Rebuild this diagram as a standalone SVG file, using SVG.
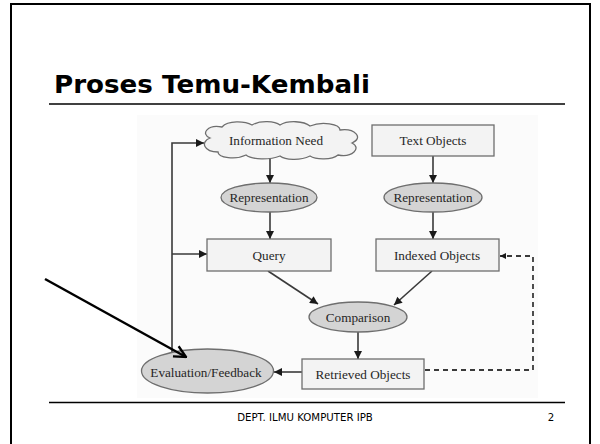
<svg xmlns="http://www.w3.org/2000/svg" width="600" height="444" viewBox="0 0 600 444">
<defs>
<style>
.node-box{fill:#f3f3f3;stroke:#6e6e6e;stroke-width:1.3}
.node-ell{fill:#d4d4d4;stroke:#6e6e6e;stroke-width:1.3}
.lbl{font-family:"Liberation Serif","Times New Roman",serif;font-size:13.2px;fill:#262626;text-anchor:middle;dominant-baseline:central}
.edge{fill:none;stroke:#3a3a3a;stroke-width:1.6}
.dash{fill:none;stroke:#3a3a3a;stroke-width:1.8;stroke-dasharray:5,4}
.foot{font-family:"DejaVu Sans",Verdana,sans-serif;font-size:10.2px;fill:#000}
</style>
<marker id="ah" viewBox="0 0 10 10" refX="10" refY="5" markerWidth="9" markerHeight="8" markerUnits="userSpaceOnUse" orient="auto">
<path d="M0,0 L10,5 L0,10 z" fill="#1a1a1a"/>
</marker>
<marker id="ahs" viewBox="0 0 10 10" refX="10" refY="5" markerWidth="6" markerHeight="6" markerUnits="userSpaceOnUse" orient="auto">
<path d="M0,0 L10,5 L0,10 z" fill="#1a1a1a"/>
</marker>
<marker id="open" viewBox="0 0 12 12" refX="11" refY="6" markerWidth="14" markerHeight="14" markerUnits="userSpaceOnUse" orient="auto">
<path d="M1,1 L11,6 L1,11" fill="none" stroke="#000" stroke-width="2"/>
</marker>
</defs>
<rect x="0" y="0" width="600" height="444" fill="#fff"/>
<rect x="11" y="4" width="579" height="460" fill="none" stroke="#000" stroke-width="2"/>
<text x="54" y="93" font-family="'DejaVu Sans',Verdana,sans-serif" font-weight="bold" font-size="25" textLength="316" lengthAdjust="spacingAndGlyphs" fill="#000">Proses Temu-Kembali</text>
<line x1="49" y1="104" x2="565" y2="104" stroke="#000" stroke-width="1.3"/>
<rect x="137" y="115" width="401" height="283" fill="#fbfbfb"/>
<g id="connectors">
<line class="edge" x1="270" y1="158" x2="270" y2="183" marker-end="url(#ah)"/>
<line class="edge" x1="270" y1="212" x2="270" y2="239" marker-end="url(#ah)"/>
<line class="edge" x1="433" y1="156" x2="433" y2="183" marker-end="url(#ah)"/>
<line class="edge" x1="433" y1="212" x2="433" y2="239" marker-end="url(#ah)"/>
<line class="edge" x1="268" y1="271" x2="318" y2="304" marker-end="url(#ah)"/>
<line class="edge" x1="432" y1="271" x2="394" y2="305" marker-end="url(#ah)"/>
<line class="edge" x1="358" y1="332" x2="358" y2="359" marker-end="url(#ah)"/>
<line class="edge" x1="302" y1="372" x2="274" y2="372" marker-end="url(#ah)"/>
<polyline class="edge" points="172,352 172,143 204,143" marker-end="url(#ah)"/>
<line class="edge" x1="172" y1="254" x2="207" y2="254" marker-end="url(#ah)"/>
<polyline class="dash" points="425,370 533,370 533,256 500,256" marker-end="url(#ahs)"/>
</g>
<g id="information-need">
<path class="node-box" d="M210,138 C200,134 208,124 222,127 C228,120 245,121 252,125 C260,120 275,121 280,125 C288,120 304,121 310,126 C322,121 340,124 340,130 C355,128 364,138 352,143 C362,148 352,158 338,155 C332,160 316,160 310,156 C300,161 285,160 280,156 C270,160 252,160 246,155 C236,160 218,158 218,152 C204,152 200,142 210,138 Z"/>
<text class="lbl" x="276" y="140">Information Need</text>
</g>
<g id="text-objects">
<rect class="node-box" x="372" y="125" width="122" height="31"/>
<text class="lbl" x="433" y="140">Text Objects</text>
</g>
<g id="representation-1">
<ellipse class="node-ell" cx="269" cy="197.5" rx="48" ry="14.5"/>
<text class="lbl" x="269" y="197.5">Representation</text>
</g>
<g id="representation-2">
<ellipse class="node-ell" cx="433" cy="197.5" rx="49" ry="14.5"/>
<text class="lbl" x="433" y="197.5">Representation</text>
</g>
<g id="query">
<rect class="node-box" x="207" y="239" width="124" height="32"/>
<text class="lbl" x="269" y="255">Query</text>
</g>
<g id="indexed-objects">
<rect class="node-box" x="376" y="239" width="123" height="32"/>
<text class="lbl" x="437" y="255">Indexed Objects</text>
</g>
<g id="comparison">
<ellipse class="node-ell" cx="358" cy="317" rx="49" ry="15"/>
<text class="lbl" x="358" y="317">Comparison</text>
</g>
<g id="retrieved-objects">
<rect class="node-box" x="302" y="359" width="122" height="30"/>
<text class="lbl" x="363" y="374">Retrieved Objects</text>
</g>
<g id="evaluation-feedback">
<ellipse class="node-ell" cx="207.5" cy="371" rx="66" ry="22"/>
<text class="lbl" x="206" y="372">Evaluation/Feedback</text>
</g>
<g id="pointer-arrow">
<line x1="45" y1="279" x2="186" y2="357" stroke="#000" stroke-width="2.5" marker-end="url(#open)"/>
</g>
<line x1="49" y1="402.5" x2="565" y2="402.5" stroke="#000" stroke-width="1.3"/>
<text class="foot" x="305" y="421" text-anchor="middle">DEPT. ILMU KOMPUTER IPB</text>
<text class="foot" x="551" y="421" text-anchor="middle">2</text>
</svg>
